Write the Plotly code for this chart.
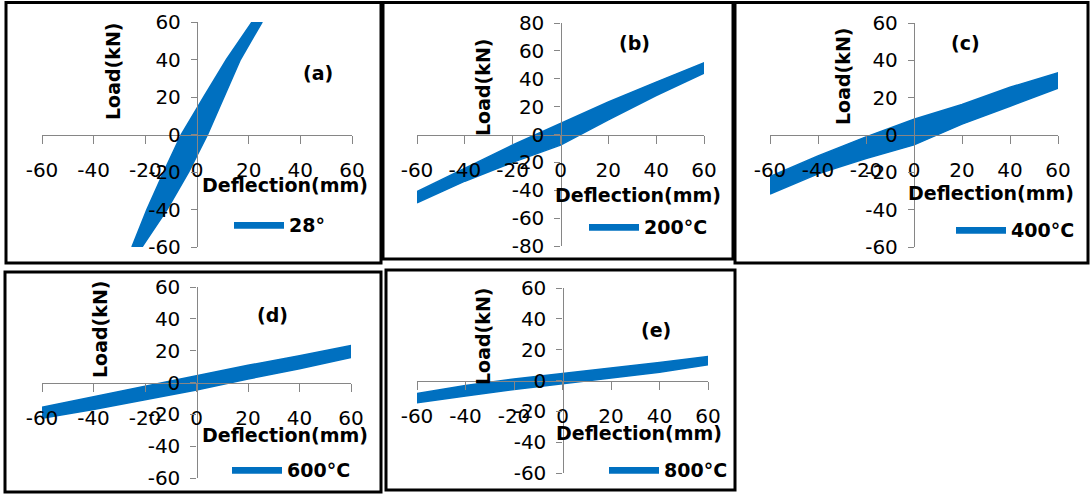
import plotly.graph_objects as go

# ---------------- data ----------------
deflection_ticks = [-60, -40, -20, 0, 20, 40, 60]

# (a) 28° : loop described along the load axis
a_load = [-60, -40, -20, 0, 20, 40, 60]
a_defl_left = [-25.2, -19.4, -12.9, -6.1, 2.6, 11.4, 21.3]
a_defl_right = [-21.3, -11.6, -3.2, 4.1, 10.3, 16.8, 25.2]

# (b)-(e): loops described along the deflection axis
band_defl = [-60, -40, -20, 0, 20, 40, 60]
b_upper = [-41.0, -24.0, -7.5, 7.9, 23.3, 37.6, 51.4]
b_lower = [-49.0, -33.5, -20.0, -7.6, 10.5, 28.0, 44.0]
c_upper = [-22.3, -11.2, -1.0, 8.4, 16.3, 25.6, 33.3]
c_lower = [-31.6, -20.8, -12.6, -5.3, 5.8, 15.4, 25.1]
d_upper = [-15.5, -9.0, -2.6, 4.3, 10.8, 16.8, 23.2]
d_lower = [-22.5, -17.0, -10.8, -4.7, 2.2, 8.6, 15.7]
e_upper = [-8.5, -3.3, 1.0, 4.5, 8.1, 11.7, 15.5]
e_lower = [-14.5, -10.0, -5.8, -1.9, 1.7, 5.3, 10.2]

legend_names = ["28°", "200°C", "400°C", "600°C", "800°C"]
panel_tags = ["(a)", "(b)", "(c)", "(d)", "(e)"]
load_limits = [60, 80, 60, 60, 60]

# ---------------- layout helpers ----------------
W, H = 1092, 494
def PX(x):
    return x / W
def PY(y):
    return 1 - y / H

BLUE = "#0070C0"
AXC = "#868686"
FONT = "DejaVu Sans"

# plot areas in pixels: (x0, x1, y0, y1)
areas = [(42, 352, 22, 247), (417, 704, 23, 246), (770, 1058, 23, 247),
         (42, 351, 287, 478), (417, 708, 288, 473)]
borders = [(6, 381, 2.5, 263), (383, 733, 2.5, 259), (735, 1088, 2.5, 263),
           (5, 381, 272, 492), (386, 735, 270, 490)]
tag_pos = [(318, 73), (634, 43), (965, 43), (272, 315), (656, 330)]
xtitle_pos = [(285, 185), (638, 195), (991, 193), (285, 435), (639, 433)]
ytitle_pos = [(113, 71), (483, 87), (843, 76), (100, 329), (483, 336)]
legend_pos = [(235, 225), (590, 227), (957, 230), (233, 470), (610, 470)]

# loop outlines
loops_x = [a_defl_left + a_defl_right[::-1]]
loops_y = [a_load + a_load[::-1]]
for up, lo in [(b_upper, b_lower), (c_upper, c_lower), (d_upper, d_lower), (e_upper, e_lower)]:
    loops_x.append(band_defl + band_defl[::-1])
    loops_y.append(up + lo[::-1])

fig = go.Figure()
layout = dict(width=W, height=H, margin=dict(l=0, r=0, t=0, b=0, autoexpand=False),
              paper_bgcolor="white", plot_bgcolor="rgba(0,0,0,0)",
              showlegend=True, annotations=[], shapes=[])

def label(text, x, y, angle=0):
    return dict(text="<b>" + text + "</b>", x=PX(x), y=PY(y), xref="paper", yref="paper",
                xanchor="center", yanchor="middle", showarrow=False, textangle=angle,
                font=dict(family=FONT, size=19, color="black"))

for i in range(5):
    sfx = "" if i == 0 else str(i + 1)
    x0, x1, y0, y1 = areas[i]
    lim = load_limits[i]
    leg = "legend" + sfx
    fig.add_trace(go.Scatter(
        x=loops_x[i], y=loops_y[i], mode="lines", fill="toself",
        fillcolor=BLUE, line=dict(color=BLUE, width=1.5),
        name=legend_names[i], legend=leg, hoverinfo="skip",
        xaxis="x" + sfx, yaxis="y" + sfx))
    tickfont = dict(family=FONT, size=20, color="black")
    yt = list(range(-lim, lim + 1, 20))
    layout["xaxis" + sfx] = dict(
        domain=[PX(x0), PX(x1)], range=[-60, 60], anchor="free",
        position=PY((y0 + y1) / 2), tickmode="array", tickvals=deflection_ticks,
        ticktext=[str(v) for v in deflection_ticks],
        showline=True, linecolor=AXC, linewidth=1.3, ticks="outside",
        ticklen=8, tickcolor=AXC, tickwidth=1.3, tickfont=tickfont,
        showgrid=False, zeroline=False, tickangle=0, ticklabelstandoff=9)
    layout["yaxis" + sfx] = dict(
        domain=[PY(y1), PY(y0)], range=[-lim, lim], anchor="free",
        position=PX((x0 + x1) / 2), tickmode="array", tickvals=yt,
        ticktext=[str(v) for v in yt],
        showline=True, linecolor=AXC, linewidth=1.3, ticks="outside",
        ticklen=6, tickcolor=AXC, tickwidth=1.3, tickfont=tickfont,
        showgrid=False, zeroline=False, ticklabelstandoff=6)
    lx, ly = legend_pos[i]
    layout[leg] = dict(x=PX(lx - 6), y=PY(ly), xanchor="left", yanchor="middle",
                       bgcolor="rgba(0,0,0,0)", borderwidth=0, itemwidth=50,
                       font=dict(family=FONT, size=19, color="black", weight="bold"))
    bx0, bx1, by0, by1 = borders[i]
    layout["shapes"].append(dict(type="rect", xref="paper", yref="paper",
                                 x0=PX(bx0), x1=PX(bx1), y0=PY(by1), y1=PY(by0),
                                 line=dict(color="black", width=3)))
    layout["annotations"].append(label(panel_tags[i], *tag_pos[i]))
    layout["annotations"].append(label("Deflection(mm)", *xtitle_pos[i]))
    layout["annotations"].append(label("Load(kN)", *ytitle_pos[i], angle=-90))

fig.update_layout(**layout)
fig.write_html("out.html", config={"displayModeBar": False},
               post_script="document.body.style.margin='0px';")
